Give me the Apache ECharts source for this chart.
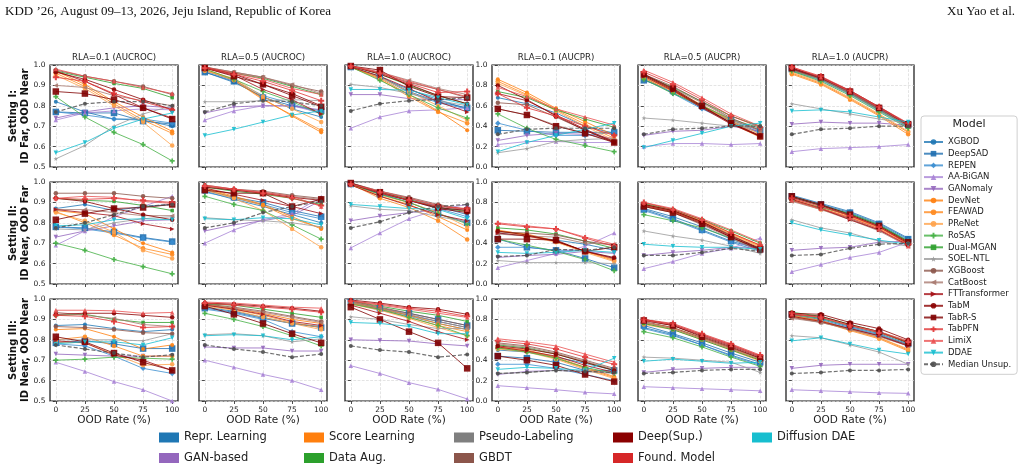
<!DOCTYPE html>
<html>
<head>
<meta charset="utf-8">
<script src="https://cdn.jsdelivr.net/npm/echarts@6/dist/echarts.min.js"></script>
<style>
  html, body { margin: 0; padding: 0; background: #fff; }
  #chart { width: 1020px; height: 471px; }
</style>
</head>
<body>
<div id="chart"></div>
<script>
// ---- data ----
const oodRates = [0, 25, 50, 75, 100];
const models = ['XGBOD', 'DeepSAD', 'REPEN', 'AA-BiGAN', 'GANomaly', 'DevNet', 'FEAWAD', 'PReNet',
  'RoSAS', 'Dual-MGAN', 'SOEL-NTL', 'XGBoost', 'CatBoost', 'FTTransformer', 'TabM', 'TabR-S',
  'TabPFN', 'LimiX', 'DDAE', 'Median Unsup.'];
const panelTitles = ['RLA=0.1 (AUCROC)', 'RLA=0.5 (AUCROC)', 'RLA=1.0 (AUCROC)',
  'RLA=0.1 (AUCPR)', 'RLA=0.5 (AUCPR)', 'RLA=1.0 (AUCPR)'];
const settingLabels = ['Setting I:\nID Far, OOD Near', 'Setting II:\nID Near, OOD Far', 'Setting III:\nID Near, OOD Near'];
const families = ['Repr. Learning', 'GAN-based', 'Score Learning', 'Data Aug.', 'Pseudo-Labeling', 'GBDT',
  'Deep(Sup.)', 'Found. Model', 'Diffusion DAE'];
const rocTicks = [0.5, 0.6, 0.7, 0.8, 0.9, 1.0];
const prTicks = [0.0, 0.2, 0.4, 0.6, 0.8, 1.0];

// one row per model (order of `models`), one value per OOD rate
const s1Roc01 = [
  [0.82, 0.77, 0.735, 0.73, 0.70], [0.77, 0.765, 0.765, 0.725, 0.71], [0.77, 0.755, 0.735, 0.735, 0.715],
  [0.73, 0.765, 0.775, 0.785, 0.78], [0.74, 0.77, 0.79, 0.80, 0.79], [0.97, 0.905, 0.82, 0.745, 0.675],
  [0.96, 0.895, 0.81, 0.73, 0.665], [0.95, 0.885, 0.80, 0.72, 0.605], [0.845, 0.745, 0.67, 0.61, 0.53],
  [0.97, 0.94, 0.91, 0.885, 0.84], [0.54, 0.605, 0.70, 0.76, 0.80], [0.975, 0.945, 0.92, 0.895, 0.855],
  [0.90, 0.89, 0.85, 0.825, 0.80], [0.97, 0.92, 0.855, 0.79, 0.74], [0.965, 0.93, 0.88, 0.83, 0.78],
  [0.87, 0.86, 0.83, 0.79, 0.735], [0.94, 0.92, 0.86, 0.82, 0.78], [0.98, 0.945, 0.92, 0.89, 0.86],
  [0.57, 0.62, 0.69, 0.735, 0.765], [0.77, 0.81, 0.82, 0.82, 0.80]
];
const s1Roc05 = [
  [0.965, 0.915, 0.845, 0.785, 0.745], [0.965, 0.92, 0.84, 0.80, 0.775], [0.97, 0.925, 0.85, 0.81, 0.76],
  [0.73, 0.775, 0.80, 0.80, 0.765], [0.765, 0.795, 0.80, 0.80, 0.78], [0.98, 0.93, 0.835, 0.75, 0.67],
  [0.975, 0.925, 0.83, 0.755, 0.68], [0.97, 0.935, 0.845, 0.785, 0.72], [0.98, 0.93, 0.87, 0.82, 0.76],
  [0.985, 0.96, 0.935, 0.895, 0.855], [0.82, 0.82, 0.825, 0.83, 0.825], [0.99, 0.965, 0.94, 0.90, 0.87],
  [0.99, 0.965, 0.94, 0.905, 0.86], [0.985, 0.95, 0.88, 0.83, 0.76], [0.99, 0.955, 0.905, 0.86, 0.80],
  [0.985, 0.945, 0.905, 0.85, 0.795], [0.985, 0.955, 0.92, 0.875, 0.825], [0.99, 0.96, 0.93, 0.885, 0.855],
  [0.655, 0.685, 0.72, 0.755, 0.775], [0.77, 0.81, 0.825, 0.82, 0.80]
];
const s1Roc10 = [
  [0.99, 0.94, 0.88, 0.83, 0.785], [0.99, 0.945, 0.87, 0.82, 0.79], [0.99, 0.94, 0.865, 0.815, 0.785],
  [0.69, 0.745, 0.775, 0.78, 0.79], [0.855, 0.855, 0.835, 0.83, 0.83], [0.99, 0.935, 0.855, 0.775, 0.68],
  [0.99, 0.93, 0.845, 0.77, 0.715], [0.99, 0.94, 0.87, 0.80, 0.73], [0.99, 0.925, 0.855, 0.79, 0.74],
  [0.995, 0.955, 0.90, 0.85, 0.81], [0.905, 0.89, 0.86, 0.825, 0.80], [0.995, 0.96, 0.915, 0.88, 0.84],
  [0.995, 0.965, 0.925, 0.885, 0.855], [0.99, 0.945, 0.885, 0.82, 0.77], [0.995, 0.955, 0.905, 0.85, 0.81],
  [0.995, 0.975, 0.895, 0.845, 0.84], [0.995, 0.96, 0.91, 0.865, 0.87], [0.995, 0.965, 0.92, 0.88, 0.845],
  [0.88, 0.88, 0.877, 0.84, 0.805], [0.775, 0.81, 0.825, 0.83, 0.84]
];
const s1Pr01 = [
  [0.68, 0.62, 0.53, 0.40, 0.33], [0.36, 0.35, 0.34, 0.34, 0.34], [0.43, 0.36, 0.31, 0.31, 0.34],
  [0.22, 0.25, 0.25, 0.24, 0.24], [0.26, 0.31, 0.33, 0.32, 0.28], [0.86, 0.73, 0.575, 0.445, 0.31],
  [0.84, 0.71, 0.56, 0.42, 0.28], [0.82, 0.70, 0.55, 0.40, 0.26], [0.52, 0.38, 0.27, 0.21, 0.15],
  [0.74, 0.68, 0.56, 0.47, 0.39], [0.14, 0.18, 0.25, 0.27, 0.28], [0.63, 0.61, 0.49, 0.36, 0.25],
  [0.57, 0.51, 0.41, 0.33, 0.25], [0.72, 0.65, 0.51, 0.37, 0.25], [0.80, 0.66, 0.50, 0.36, 0.24],
  [0.57, 0.51, 0.40, 0.33, 0.24], [0.72, 0.58, 0.50, 0.40, 0.31], [0.78, 0.69, 0.57, 0.49, 0.41],
  [0.15, 0.24, 0.31, 0.37, 0.43], [0.32, 0.37, 0.38, 0.38, 0.38]
];
const s1Pr05 = [
  [0.86, 0.73, 0.58, 0.45, 0.34], [0.85, 0.75, 0.60, 0.46, 0.36], [0.88, 0.72, 0.57, 0.44, 0.33],
  [0.20, 0.23, 0.23, 0.22, 0.23], [0.31, 0.35, 0.36, 0.40, 0.35], [0.88, 0.75, 0.60, 0.45, 0.30],
  [0.87, 0.74, 0.59, 0.43, 0.29], [0.89, 0.76, 0.61, 0.46, 0.32], [0.86, 0.72, 0.60, 0.47, 0.38],
  [0.90, 0.78, 0.64, 0.50, 0.40], [0.48, 0.46, 0.43, 0.40, 0.38], [0.91, 0.79, 0.64, 0.48, 0.36],
  [0.90, 0.77, 0.63, 0.47, 0.35], [0.89, 0.75, 0.58, 0.42, 0.30], [0.90, 0.76, 0.59, 0.43, 0.31],
  [0.91, 0.77, 0.60, 0.43, 0.30], [0.93, 0.81, 0.66, 0.50, 0.39], [0.95, 0.83, 0.68, 0.52, 0.40],
  [0.19, 0.26, 0.33, 0.40, 0.43], [0.32, 0.37, 0.38, 0.40, 0.40]
];
const s1Pr10 = [
  [0.95, 0.86, 0.72, 0.56, 0.40], [0.96, 0.87, 0.73, 0.57, 0.41], [0.94, 0.85, 0.71, 0.55, 0.39],
  [0.15, 0.18, 0.19, 0.20, 0.22], [0.42, 0.44, 0.43, 0.43, 0.41], [0.92, 0.82, 0.67, 0.51, 0.34],
  [0.91, 0.81, 0.66, 0.50, 0.32], [0.93, 0.83, 0.68, 0.52, 0.35], [0.94, 0.84, 0.70, 0.54, 0.38],
  [0.95, 0.86, 0.72, 0.56, 0.40], [0.62, 0.57, 0.52, 0.47, 0.43], [0.96, 0.87, 0.73, 0.57, 0.41],
  [0.95, 0.86, 0.72, 0.56, 0.40], [0.96, 0.87, 0.74, 0.58, 0.41], [0.97, 0.88, 0.75, 0.59, 0.42],
  [0.97, 0.88, 0.74, 0.58, 0.42], [0.98, 0.89, 0.75, 0.59, 0.43], [0.98, 0.88, 0.74, 0.58, 0.42],
  [0.55, 0.56, 0.54, 0.49, 0.44], [0.32, 0.37, 0.38, 0.40, 0.40]
];
const s2Roc01 = [
  [0.87, 0.89, 0.86, 0.88, 0.89], [0.78, 0.775, 0.755, 0.728, 0.708], [0.78, 0.77, 0.75, 0.725, 0.705],
  [0.69, 0.76, 0.83, 0.88, 0.93], [0.73, 0.76, 0.785, 0.81, 0.815], [0.86, 0.845, 0.77, 0.70, 0.655],
  [0.855, 0.80, 0.74, 0.675, 0.645], [0.85, 0.81, 0.755, 0.665, 0.625], [0.70, 0.665, 0.62, 0.585, 0.55],
  [0.92, 0.91, 0.905, 0.885, 0.86], [0.77, 0.765, 0.80, 0.82, 0.83], [0.945, 0.945, 0.945, 0.93, 0.92],
  [0.865, 0.865, 0.85, 0.835, 0.835], [0.865, 0.85, 0.835, 0.795, 0.77], [0.92, 0.905, 0.87, 0.84, 0.815],
  [0.815, 0.845, 0.87, 0.875, 0.89], [0.92, 0.915, 0.92, 0.91, 0.90], [0.92, 0.93, 0.925, 0.905, 0.895],
  [0.785, 0.79, 0.815, 0.82, 0.815], [0.775, 0.80, 0.84, 0.88, 0.89]
];
const s2Roc05 = [
  [0.955, 0.915, 0.88, 0.84, 0.80], [0.96, 0.925, 0.90, 0.86, 0.83], [0.95, 0.92, 0.89, 0.85, 0.82],
  [0.70, 0.765, 0.815, 0.845, 0.925], [0.76, 0.79, 0.81, 0.835, 0.91], [0.97, 0.93, 0.89, 0.83, 0.77],
  [0.965, 0.925, 0.885, 0.82, 0.775], [0.96, 0.92, 0.86, 0.77, 0.68], [0.93, 0.89, 0.86, 0.79, 0.72],
  [0.975, 0.955, 0.94, 0.92, 0.89], [0.825, 0.815, 0.81, 0.80, 0.78], [0.985, 0.965, 0.955, 0.935, 0.92],
  [0.98, 0.96, 0.95, 0.93, 0.915], [0.97, 0.94, 0.91, 0.88, 0.845], [0.975, 0.96, 0.945, 0.925, 0.91],
  [0.96, 0.945, 0.945, 0.88, 0.915], [0.98, 0.965, 0.945, 0.92, 0.885], [0.985, 0.965, 0.95, 0.93, 0.88],
  [0.82, 0.815, 0.825, 0.82, 0.79], [0.775, 0.80, 0.85, 0.88, 0.905]
];
const s2Roc10 = [
  [0.99, 0.95, 0.92, 0.88, 0.84], [0.99, 0.94, 0.90, 0.845, 0.80], [0.985, 0.94, 0.91, 0.87, 0.83],
  [0.677, 0.75, 0.82, 0.865, 0.89], [0.81, 0.833, 0.85, 0.863, 0.87], [0.99, 0.93, 0.89, 0.83, 0.765],
  [0.99, 0.92, 0.875, 0.81, 0.718], [0.985, 0.935, 0.90, 0.85, 0.78], [0.99, 0.94, 0.90, 0.845, 0.795],
  [0.995, 0.95, 0.915, 0.875, 0.855], [0.883, 0.866, 0.86, 0.83, 0.805], [0.995, 0.955, 0.925, 0.89, 0.865],
  [0.995, 0.955, 0.92, 0.885, 0.86], [0.985, 0.93, 0.885, 0.84, 0.81], [0.99, 0.945, 0.91, 0.87, 0.85],
  [0.995, 0.95, 0.91, 0.875, 0.86], [0.99, 0.95, 0.91, 0.88, 0.87], [0.99, 0.955, 0.92, 0.885, 0.865],
  [0.89, 0.88, 0.87, 0.866, 0.82], [0.775, 0.805, 0.85, 0.88, 0.89]
];
const s2Pr01 = [
  [0.50, 0.47, 0.43, 0.39, 0.33], [0.44, 0.36, 0.33, 0.25, 0.16], [0.36, 0.36, 0.33, 0.33, 0.25],
  [0.16, 0.23, 0.30, 0.37, 0.50], [0.26, 0.28, 0.29, 0.32, 0.30], [0.52, 0.49, 0.42, 0.32, 0.24],
  [0.53, 0.48, 0.42, 0.32, 0.23], [0.52, 0.47, 0.41, 0.31, 0.22], [0.44, 0.38, 0.32, 0.24, 0.13],
  [0.55, 0.53, 0.49, 0.42, 0.35], [0.23, 0.21, 0.21, 0.21, 0.20], [0.51, 0.50, 0.48, 0.42, 0.38],
  [0.49, 0.47, 0.46, 0.40, 0.39], [0.50, 0.47, 0.42, 0.32, 0.25], [0.52, 0.48, 0.42, 0.32, 0.26],
  [0.44, 0.44, 0.43, 0.32, 0.36], [0.59, 0.56, 0.54, 0.45, 0.37], [0.60, 0.57, 0.54, 0.46, 0.39],
  [0.31, 0.30, 0.31, 0.33, 0.31], [0.27, 0.28, 0.34, 0.33, 0.36]
];
const s2Pr05 = [
  [0.74, 0.66, 0.56, 0.44, 0.33], [0.73, 0.64, 0.53, 0.42, 0.34], [0.72, 0.63, 0.52, 0.41, 0.32],
  [0.15, 0.22, 0.30, 0.35, 0.45], [0.28, 0.31, 0.33, 0.36, 0.36], [0.78, 0.72, 0.62, 0.50, 0.38],
  [0.77, 0.71, 0.61, 0.49, 0.37], [0.76, 0.70, 0.60, 0.48, 0.36], [0.68, 0.62, 0.55, 0.45, 0.35],
  [0.79, 0.73, 0.63, 0.52, 0.40], [0.52, 0.47, 0.43, 0.37, 0.30], [0.78, 0.72, 0.61, 0.48, 0.34],
  [0.76, 0.70, 0.58, 0.45, 0.32], [0.77, 0.71, 0.60, 0.46, 0.33], [0.78, 0.72, 0.61, 0.47, 0.35],
  [0.76, 0.70, 0.59, 0.46, 0.34], [0.80, 0.73, 0.63, 0.50, 0.38], [0.80, 0.74, 0.64, 0.53, 0.41],
  [0.39, 0.37, 0.36, 0.36, 0.34], [0.28, 0.28, 0.31, 0.35, 0.32]
];
const s2Pr10 = [
  [0.87, 0.79, 0.71, 0.60, 0.45], [0.86, 0.78, 0.70, 0.59, 0.44], [0.85, 0.77, 0.69, 0.58, 0.43],
  [0.12, 0.19, 0.26, 0.31, 0.41], [0.33, 0.35, 0.36, 0.41, 0.42], [0.83, 0.74, 0.66, 0.55, 0.40],
  [0.82, 0.73, 0.65, 0.54, 0.39], [0.84, 0.75, 0.67, 0.56, 0.41], [0.82, 0.75, 0.68, 0.57, 0.42],
  [0.86, 0.77, 0.69, 0.58, 0.42], [0.63, 0.55, 0.50, 0.42, 0.37], [0.82, 0.74, 0.64, 0.53, 0.38],
  [0.81, 0.73, 0.63, 0.52, 0.37], [0.83, 0.74, 0.63, 0.53, 0.38], [0.85, 0.77, 0.67, 0.56, 0.40],
  [0.86, 0.78, 0.68, 0.57, 0.41], [0.84, 0.76, 0.67, 0.56, 0.39], [0.82, 0.74, 0.65, 0.54, 0.37],
  [0.60, 0.53, 0.48, 0.43, 0.39], [0.28, 0.29, 0.35, 0.39, 0.40]
];
const s3Roc01 = [
  [0.87, 0.875, 0.855, 0.84, 0.85], [0.785, 0.795, 0.78, 0.757, 0.757], [0.78, 0.77, 0.72, 0.66, 0.635],
  [0.69, 0.645, 0.595, 0.555, 0.50], [0.73, 0.725, 0.72, 0.72, 0.72], [0.85, 0.855, 0.815, 0.755, 0.775],
  [0.80, 0.815, 0.77, 0.72, 0.72], [0.79, 0.785, 0.73, 0.675, 0.68], [0.70, 0.705, 0.715, 0.71, 0.705],
  [0.92, 0.925, 0.90, 0.885, 0.885], [0.80, 0.80, 0.80, 0.795, 0.83], [0.865, 0.86, 0.85, 0.835, 0.83],
  [0.935, 0.92, 0.905, 0.875, 0.865], [0.795, 0.785, 0.725, 0.70, 0.65], [0.925, 0.93, 0.93, 0.92, 0.91],
  [0.815, 0.79, 0.735, 0.69, 0.65], [0.92, 0.915, 0.89, 0.86, 0.865], [0.945, 0.945, 0.942, 0.93, 0.934],
  [0.78, 0.79, 0.79, 0.775, 0.81], [0.775, 0.755, 0.735, 0.715, 0.727]
];
const s3Roc05 = [
  [0.96, 0.94, 0.91, 0.88, 0.865], [0.955, 0.935, 0.905, 0.88, 0.86], [0.95, 0.93, 0.90, 0.84, 0.815],
  [0.70, 0.665, 0.63, 0.60, 0.555], [0.765, 0.76, 0.76, 0.745, 0.745], [0.975, 0.955, 0.93, 0.90, 0.88],
  [0.97, 0.95, 0.92, 0.885, 0.86], [0.965, 0.945, 0.91, 0.88, 0.85], [0.93, 0.90, 0.865, 0.82, 0.77],
  [0.975, 0.97, 0.95, 0.93, 0.91], [0.825, 0.83, 0.82, 0.79, 0.805], [0.975, 0.96, 0.94, 0.915, 0.89],
  [0.97, 0.955, 0.935, 0.91, 0.885], [0.97, 0.95, 0.925, 0.89, 0.87], [0.98, 0.975, 0.965, 0.955, 0.94],
  [0.965, 0.925, 0.88, 0.83, 0.785], [0.98, 0.97, 0.96, 0.95, 0.935], [0.985, 0.98, 0.97, 0.96, 0.955],
  [0.82, 0.825, 0.82, 0.80, 0.815], [0.775, 0.755, 0.74, 0.715, 0.73]
];
const s3Roc10 = [
  [0.98, 0.95, 0.92, 0.89, 0.86], [0.985, 0.955, 0.93, 0.90, 0.87], [0.98, 0.945, 0.915, 0.88, 0.85],
  [0.673, 0.635, 0.59, 0.557, 0.51], [0.80, 0.797, 0.794, 0.78, 0.77], [0.985, 0.955, 0.92, 0.88, 0.85],
  [0.98, 0.95, 0.91, 0.87, 0.84], [0.975, 0.945, 0.905, 0.86, 0.82], [0.975, 0.95, 0.91, 0.87, 0.82],
  [0.99, 0.965, 0.94, 0.92, 0.89], [0.913, 0.90, 0.875, 0.855, 0.855], [0.99, 0.96, 0.93, 0.90, 0.87],
  [0.985, 0.955, 0.925, 0.89, 0.86], [0.97, 0.93, 0.89, 0.84, 0.80], [0.995, 0.98, 0.96, 0.95, 0.925],
  [0.96, 0.90, 0.84, 0.785, 0.66], [0.99, 0.975, 0.955, 0.94, 0.915], [0.99, 0.97, 0.95, 0.93, 0.91],
  [0.885, 0.88, 0.866, 0.83, 0.83], [0.77, 0.75, 0.74, 0.715, 0.728]
];
const s3Pr01 = [
  [0.50, 0.48, 0.43, 0.37, 0.30], [0.44, 0.42, 0.38, 0.30, 0.30], [0.36, 0.36, 0.32, 0.26, 0.20],
  [0.15, 0.13, 0.11, 0.085, 0.07], [0.26, 0.29, 0.30, 0.29, 0.28], [0.53, 0.50, 0.43, 0.33, 0.24],
  [0.52, 0.49, 0.42, 0.32, 0.23], [0.51, 0.48, 0.41, 0.31, 0.22], [0.52, 0.48, 0.42, 0.33, 0.27],
  [0.55, 0.52, 0.46, 0.38, 0.30], [0.27, 0.28, 0.30, 0.29, 0.27], [0.57, 0.54, 0.48, 0.40, 0.32],
  [0.56, 0.53, 0.47, 0.39, 0.31], [0.53, 0.49, 0.44, 0.35, 0.28], [0.54, 0.51, 0.46, 0.38, 0.30],
  [0.44, 0.40, 0.35, 0.26, 0.19], [0.59, 0.56, 0.51, 0.43, 0.36], [0.61, 0.58, 0.54, 0.46, 0.38],
  [0.31, 0.33, 0.32, 0.30, 0.42], [0.27, 0.28, 0.30, 0.29, 0.28]
];
const s3Pr05 = [
  [0.72, 0.65, 0.55, 0.45, 0.36], [0.74, 0.66, 0.57, 0.47, 0.38], [0.71, 0.64, 0.55, 0.44, 0.35],
  [0.14, 0.13, 0.12, 0.11, 0.10], [0.28, 0.31, 0.32, 0.33, 0.33], [0.77, 0.72, 0.62, 0.52, 0.41],
  [0.76, 0.71, 0.61, 0.51, 0.40], [0.75, 0.70, 0.60, 0.50, 0.39], [0.68, 0.62, 0.53, 0.43, 0.34],
  [0.76, 0.70, 0.60, 0.50, 0.40], [0.43, 0.42, 0.40, 0.38, 0.28], [0.78, 0.72, 0.62, 0.52, 0.42],
  [0.77, 0.71, 0.61, 0.51, 0.41], [0.79, 0.74, 0.64, 0.54, 0.43], [0.80, 0.75, 0.65, 0.55, 0.44],
  [0.79, 0.74, 0.63, 0.53, 0.42], [0.80, 0.76, 0.66, 0.56, 0.45], [0.79, 0.75, 0.65, 0.55, 0.44],
  [0.39, 0.41, 0.39, 0.37, 0.38], [0.27, 0.28, 0.30, 0.31, 0.31]
];
const s3Pr10 = [
  [0.84, 0.80, 0.72, 0.65, 0.55], [0.85, 0.81, 0.73, 0.66, 0.56], [0.83, 0.79, 0.71, 0.64, 0.54],
  [0.11, 0.10, 0.09, 0.08, 0.075], [0.32, 0.35, 0.36, 0.36, 0.36], [0.84, 0.79, 0.70, 0.62, 0.50],
  [0.83, 0.78, 0.69, 0.61, 0.49], [0.82, 0.78, 0.70, 0.62, 0.51], [0.85, 0.81, 0.74, 0.67, 0.57],
  [0.87, 0.83, 0.75, 0.68, 0.58], [0.64, 0.62, 0.55, 0.48, 0.36], [0.82, 0.77, 0.71, 0.64, 0.55],
  [0.81, 0.77, 0.70, 0.63, 0.54], [0.83, 0.78, 0.71, 0.64, 0.54], [0.86, 0.85, 0.77, 0.71, 0.60],
  [0.85, 0.83, 0.75, 0.68, 0.57], [0.86, 0.82, 0.74, 0.67, 0.58], [0.85, 0.82, 0.74, 0.68, 0.59],
  [0.59, 0.62, 0.56, 0.50, 0.46], [0.27, 0.28, 0.30, 0.30, 0.31]
];

// row by row, left to right
const panels = [
  s1Roc01, s1Roc05, s1Roc10, s1Pr01, s1Pr05, s1Pr10,
  s2Roc01, s2Roc05, s2Roc10, s2Pr01, s2Pr05, s2Pr10,
  s3Roc01, s3Roc05, s3Roc10, s3Pr01, s3Pr05, s3Pr10
];

// ---- styles ----
const FONT = 'DejaVu Sans';
const TRI_DOWN = 'path://M0,0L10,0L5,10Z';
const TRI_LEFT = 'path://M10,0L10,10L0,5Z';
const TRI_RIGHT = 'path://M0,0L10,5L0,10Z';
const PLUS = 'path://M3.3,0H6.7V3.3H10V6.7H6.7V10H3.3V6.7H0V3.3H3.3Z';
const STAR = 'path://M5,0L6.2,3.6L10,3.6L7,5.9L8.1,9.5L5,7.3L1.9,9.5L3,5.9L0,3.6L3.8,3.6Z';

const modelStyle = [
  { color: '#1f77b4', symbol: 'circle', size: 4 },
  { color: '#1f6fb0', symbol: 'rect', size: 6.5 },
  { color: '#3a8dd0', symbol: 'diamond', size: 5.5 },
  { color: '#a883d6', symbol: 'triangle', size: 4.5 },
  { color: '#9467bd', symbol: TRI_DOWN, size: 4.5 },
  { color: '#ff7f0e', symbol: 'circle', size: 4 },
  { color: '#ff8a1f', symbol: 'circle', size: 4.5 },
  { color: '#ffa24a', symbol: 'circle', size: 4.5 },
  { color: '#45b045', symbol: PLUS, size: 5 },
  { color: '#2ca02c', symbol: 'rect', size: 3.5 },
  { color: '#9a9a9a', symbol: STAR, size: 4.5 },
  { color: '#8c564b', symbol: 'circle', size: 4.5 },
  { color: '#a97a70', symbol: TRI_LEFT, size: 4.5 },
  { color: '#a50f15', symbol: TRI_RIGHT, size: 4.5 },
  { color: '#8b0000', symbol: 'circle', size: 4.5 },
  { color: '#800000', symbol: 'rect', size: 6.5 },
  { color: '#e03535', symbol: PLUS, size: 6 },
  { color: '#ea5050', symbol: 'triangle', size: 4.5 },
  { color: '#17becf', symbol: TRI_DOWN, size: 4.5 },
  { color: '#4d4d4d', symbol: 'circle', size: 4, dashed: true }
];
const familyColors = {
  'Repr. Learning': '#1f77b4', 'GAN-based': '#9467bd', 'Score Learning': '#ff7f0e', 'Data Aug.': '#2ca02c',
  'Pseudo-Labeling': '#7f7f7f', 'GBDT': '#8c564b', 'Deep(Sup.)': '#8b0000', 'Found. Model': '#d62728',
  'Diffusion DAE': '#17becf'
};

// panel boxes
const colLeft = [50, 199, 345, 492, 638, 786];
const rowTop = [65, 182, 299];
const panelW = 128;
const panelH = 102;

const grids = [], xAxes = [], yAxes = [], series = [];
const gridLine = { show: true, lineStyle: { color: '#d9d9d9', type: 'dashed', width: 0.7 } };
const tickStyle = { color: '#222', width: 0.8 };

panels.forEach((panel, i) => {
  const r = Math.floor(i / 6), c = i % 6;
  const isRoc = c < 3;
  grids.push({
    left: colLeft[c], top: rowTop[r], width: panelW, height: panelH,
    show: true, borderColor: '#111', borderWidth: 1.2, backgroundColor: '#fff'
  });
  xAxes.push({
    gridIndex: i, type: 'value', min: -5, max: 105,
    axisLine: { show: false },
    axisTick: { show: true, length: 3, lineStyle: tickStyle, customValues: oodRates },
    axisLabel: { show: r === 2, customValues: oodRates, fontSize: 7.5, color: '#222', margin: 5, fontFamily: FONT },
    splitLine: gridLine,
    name: r === 2 ? 'OOD Rate (%)' : '', nameLocation: 'middle', nameGap: 14, nameMoveOverlap: false,
    nameTextStyle: { fontSize: 10.5, color: '#222', fontFamily: FONT }
  });
  const ticks = isRoc ? rocTicks : prTicks;
  yAxes.push({
    gridIndex: i, type: 'value', min: ticks[0], max: 1,
    interval: isRoc ? 0.1 : 0.2,
    axisLine: { show: false },
    axisTick: { show: true, length: 3, lineStyle: tickStyle },
    axisLabel: {
      show: c === 0 || c === 3, fontSize: 7.5, color: '#222', margin: 4.5, fontFamily: FONT,
      formatter: v => v.toFixed(1)
    },
    splitLine: gridLine,
    name: c === 0 ? settingLabels[r] : '', nameLocation: 'middle', nameRotate: 90, nameGap: 19,
    nameMoveOverlap: false,
    nameTextStyle: { fontSize: 10, fontWeight: 'bold', color: '#111', lineHeight: 11.5, fontFamily: FONT }
  });
  panel.forEach((vals, m) => {
    const st = modelStyle[m];
    series.push({
      type: 'line', name: models[m], xAxisIndex: i, yAxisIndex: i,
      data: oodRates.map((x, k) => [x, vals[k]]),
      color: st.color, symbol: st.symbol, symbolSize: st.size,
      lineStyle: { opacity: 0.8, type: st.dashed ? [4, 2] : 'solid', width: st.dashed ? 1.2 : 1 },
      itemStyle: { opacity: 0.9 },
      silent: true, animation: false
    });
  });
});

// empty series that only feed the family legend
families.forEach(f => {
  series.push({ type: 'line', name: f, xAxisIndex: 0, yAxisIndex: 0, data: [], color: familyColors[f], animation: false });
});

const familyCols = [['Repr. Learning', 'GAN-based'], ['Score Learning', 'Data Aug.'], ['Pseudo-Labeling', 'GBDT'],
  ['Deep(Sup.)', 'Found. Model'], ['Diffusion DAE']];
const familyLeft = [159, 304, 454, 613, 752];

const legends = [{
  data: models, orient: 'vertical', left: 921, top: 116, selectedMode: false,
  padding: [21, 6, 5, 2], itemWidth: 19, itemHeight: 7, itemGap: 1.7,
  backgroundColor: '#fff', borderColor: '#cfcfcf', borderWidth: 1, borderRadius: 3,
  textStyle: { fontSize: 8.5, lineHeight: 10, color: '#222', fontFamily: FONT }
}];
familyCols.forEach((names, k) => {
  legends.push({
    data: names, orient: 'vertical', left: familyLeft[k], top: 431, selectedMode: false,
    padding: 0, icon: 'rect', itemWidth: 20, itemHeight: 10, itemGap: 7.5,
    textStyle: { fontSize: 11.5, lineHeight: 13, color: '#222', fontFamily: FONT }
  });
});

const texts = [
  { type: 'text', x: 5, y: 12, z: 100, style: { text: 'KDD \u201926, August 09\u201313, 2026, Jeju Island, Republic of Korea', font: '13px "Liberation Serif"', fill: '#111', align: 'left', verticalAlign: 'middle' } },
  { type: 'text', x: 1015, y: 12, z: 100, style: { text: 'Xu Yao et al.', font: '13px "Liberation Serif"', fill: '#111', align: 'right', verticalAlign: 'middle' } },
  { type: 'text', x: 969, y: 124, z: 100, style: { text: 'Model', font: '11px "DejaVu Sans"', fill: '#222', align: 'center', verticalAlign: 'middle' } }
];
panelTitles.forEach((t, c) => {
  texts.push({ type: 'text', x: colLeft[c] + panelW / 2, y: 58, z: 100,
    style: { text: t, font: '8.6px "DejaVu Sans"', fill: '#222', align: 'center', verticalAlign: 'middle' } });
});

const chart = echarts.init(document.getElementById('chart'), null, { renderer: 'canvas' });
chart.setOption({
  backgroundColor: '#fff',
  animation: false,
  textStyle: { fontFamily: FONT },
  grid: grids,
  xAxis: xAxes,
  yAxis: yAxes,
  legend: legends,
  graphic: texts,
  series: series
});
</script>
</body>
</html>
